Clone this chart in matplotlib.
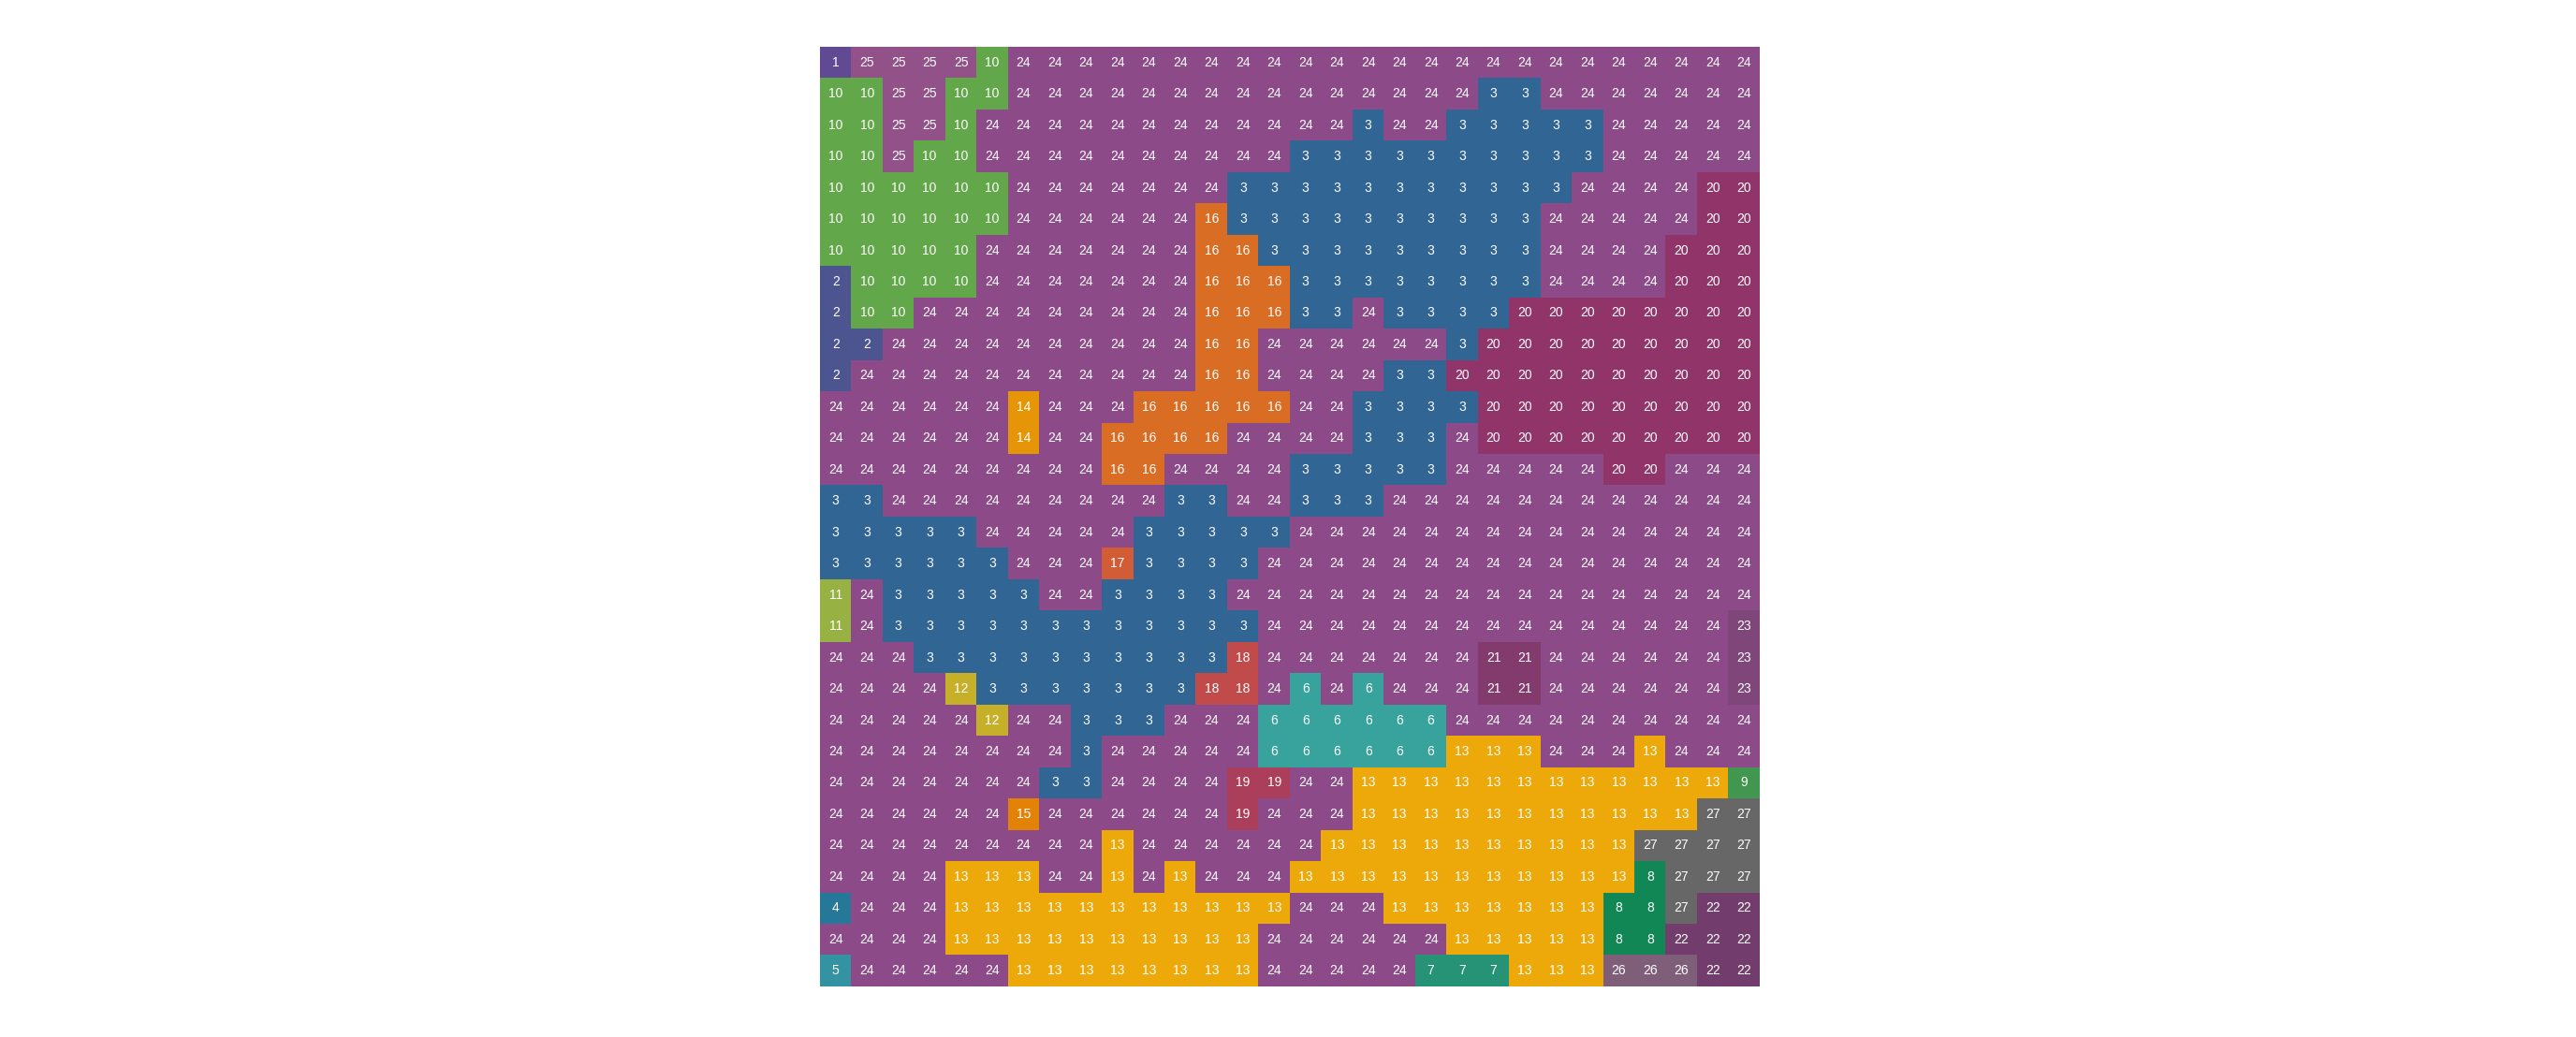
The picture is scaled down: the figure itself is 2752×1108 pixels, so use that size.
import numpy as np
import matplotlib
matplotlib.use("Agg")
import matplotlib.pyplot as plt
from matplotlib.colors import ListedColormap, BoundaryNorm

# cluster id of every cell, row by row (top to bottom)
grid = [
    [1, 25, 25, 25, 25, 10, 24, 24, 24, 24, 24, 24, 24, 24, 24, 24, 24, 24, 24, 24, 24, 24, 24, 24, 24, 24, 24, 24, 24, 24],
    [10, 10, 25, 25, 10, 10, 24, 24, 24, 24, 24, 24, 24, 24, 24, 24, 24, 24, 24, 24, 24, 3, 3, 24, 24, 24, 24, 24, 24, 24],
    [10, 10, 25, 25, 10, 24, 24, 24, 24, 24, 24, 24, 24, 24, 24, 24, 24, 3, 24, 24, 3, 3, 3, 3, 3, 24, 24, 24, 24, 24],
    [10, 10, 25, 10, 10, 24, 24, 24, 24, 24, 24, 24, 24, 24, 24, 3, 3, 3, 3, 3, 3, 3, 3, 3, 3, 24, 24, 24, 24, 24],
    [10, 10, 10, 10, 10, 10, 24, 24, 24, 24, 24, 24, 24, 3, 3, 3, 3, 3, 3, 3, 3, 3, 3, 3, 24, 24, 24, 24, 20, 20],
    [10, 10, 10, 10, 10, 10, 24, 24, 24, 24, 24, 24, 16, 3, 3, 3, 3, 3, 3, 3, 3, 3, 3, 24, 24, 24, 24, 24, 20, 20],
    [10, 10, 10, 10, 10, 24, 24, 24, 24, 24, 24, 24, 16, 16, 3, 3, 3, 3, 3, 3, 3, 3, 3, 24, 24, 24, 24, 20, 20, 20],
    [2, 10, 10, 10, 10, 24, 24, 24, 24, 24, 24, 24, 16, 16, 16, 3, 3, 3, 3, 3, 3, 3, 3, 24, 24, 24, 24, 20, 20, 20],
    [2, 10, 10, 24, 24, 24, 24, 24, 24, 24, 24, 24, 16, 16, 16, 3, 3, 24, 3, 3, 3, 3, 20, 20, 20, 20, 20, 20, 20, 20],
    [2, 2, 24, 24, 24, 24, 24, 24, 24, 24, 24, 24, 16, 16, 24, 24, 24, 24, 24, 24, 3, 20, 20, 20, 20, 20, 20, 20, 20, 20],
    [2, 24, 24, 24, 24, 24, 24, 24, 24, 24, 24, 24, 16, 16, 24, 24, 24, 24, 3, 3, 20, 20, 20, 20, 20, 20, 20, 20, 20, 20],
    [24, 24, 24, 24, 24, 24, 14, 24, 24, 24, 16, 16, 16, 16, 16, 24, 24, 3, 3, 3, 3, 20, 20, 20, 20, 20, 20, 20, 20, 20],
    [24, 24, 24, 24, 24, 24, 14, 24, 24, 16, 16, 16, 16, 24, 24, 24, 24, 3, 3, 3, 24, 20, 20, 20, 20, 20, 20, 20, 20, 20],
    [24, 24, 24, 24, 24, 24, 24, 24, 24, 16, 16, 24, 24, 24, 24, 3, 3, 3, 3, 3, 24, 24, 24, 24, 24, 20, 20, 24, 24, 24],
    [3, 3, 24, 24, 24, 24, 24, 24, 24, 24, 24, 3, 3, 24, 24, 3, 3, 3, 24, 24, 24, 24, 24, 24, 24, 24, 24, 24, 24, 24],
    [3, 3, 3, 3, 3, 24, 24, 24, 24, 24, 3, 3, 3, 3, 3, 24, 24, 24, 24, 24, 24, 24, 24, 24, 24, 24, 24, 24, 24, 24],
    [3, 3, 3, 3, 3, 3, 24, 24, 24, 17, 3, 3, 3, 3, 24, 24, 24, 24, 24, 24, 24, 24, 24, 24, 24, 24, 24, 24, 24, 24],
    [11, 24, 3, 3, 3, 3, 3, 24, 24, 3, 3, 3, 3, 24, 24, 24, 24, 24, 24, 24, 24, 24, 24, 24, 24, 24, 24, 24, 24, 24],
    [11, 24, 3, 3, 3, 3, 3, 3, 3, 3, 3, 3, 3, 3, 24, 24, 24, 24, 24, 24, 24, 24, 24, 24, 24, 24, 24, 24, 24, 23],
    [24, 24, 24, 3, 3, 3, 3, 3, 3, 3, 3, 3, 3, 18, 24, 24, 24, 24, 24, 24, 24, 21, 21, 24, 24, 24, 24, 24, 24, 23],
    [24, 24, 24, 24, 12, 3, 3, 3, 3, 3, 3, 3, 18, 18, 24, 6, 24, 6, 24, 24, 24, 21, 21, 24, 24, 24, 24, 24, 24, 23],
    [24, 24, 24, 24, 24, 12, 24, 24, 3, 3, 3, 24, 24, 24, 6, 6, 6, 6, 6, 6, 24, 24, 24, 24, 24, 24, 24, 24, 24, 24],
    [24, 24, 24, 24, 24, 24, 24, 24, 3, 24, 24, 24, 24, 24, 6, 6, 6, 6, 6, 6, 13, 13, 13, 24, 24, 24, 13, 24, 24, 24],
    [24, 24, 24, 24, 24, 24, 24, 3, 3, 24, 24, 24, 24, 19, 19, 24, 24, 13, 13, 13, 13, 13, 13, 13, 13, 13, 13, 13, 13, 9],
    [24, 24, 24, 24, 24, 24, 15, 24, 24, 24, 24, 24, 24, 19, 24, 24, 24, 13, 13, 13, 13, 13, 13, 13, 13, 13, 13, 13, 27, 27],
    [24, 24, 24, 24, 24, 24, 24, 24, 24, 13, 24, 24, 24, 24, 24, 24, 13, 13, 13, 13, 13, 13, 13, 13, 13, 13, 27, 27, 27, 27],
    [24, 24, 24, 24, 13, 13, 13, 24, 24, 13, 24, 13, 24, 24, 24, 13, 13, 13, 13, 13, 13, 13, 13, 13, 13, 13, 8, 27, 27, 27],
    [4, 24, 24, 24, 13, 13, 13, 13, 13, 13, 13, 13, 13, 13, 13, 24, 24, 24, 13, 13, 13, 13, 13, 13, 13, 8, 8, 27, 22, 22],
    [24, 24, 24, 24, 13, 13, 13, 13, 13, 13, 13, 13, 13, 13, 24, 24, 24, 24, 24, 24, 13, 13, 13, 13, 13, 8, 8, 22, 22, 22],
    [5, 24, 24, 24, 24, 24, 13, 13, 13, 13, 13, 13, 13, 13, 24, 24, 24, 24, 24, 7, 7, 7, 13, 13, 13, 26, 26, 26, 22, 22],
]

cluster_ids = list(range(1, 28))
cluster_colors = [
    "#5f4a93", "#4c5590", "#316593", "#267898", "#3493a2", "#37a39c",
    "#269377", "#118756", "#419750", "#63a74b", "#98b143", "#c6b02a",
    "#eca909", "#e59506", "#e28206", "#d86d23", "#d15c36", "#c14b4a",
    "#ab3f5b", "#90346a", "#833a6c", "#723c6d", "#7e4679", "#8c4a88",
    "#925289", "#7f5e79", "#676767",
]

data = np.array(grid)
nrows, ncols = data.shape

cmap = ListedColormap(cluster_colors)
norm = BoundaryNorm(np.arange(0.5, len(cluster_ids) + 1.5), cmap.N)

fig = plt.figure(figsize=(27.52, 11.08), dpi=100)
ax = fig.add_axes([876 / 2752, 54 / 1108, 1004 / 2752, 1004 / 1108])
ax.imshow(data, cmap=cmap, norm=norm, aspect="auto", interpolation="nearest")

for r in range(nrows):
    for c in range(ncols):
        ax.text(c, r, str(data[r, c]), ha="center", va="center",
                color="white", fontsize=10, family="Liberation Sans")

ax.set_xlim(-0.5, ncols - 0.5)
ax.set_ylim(nrows - 0.5, -0.5)
ax.axis("off")

fig.savefig("out.png", dpi=100, facecolor="white")
